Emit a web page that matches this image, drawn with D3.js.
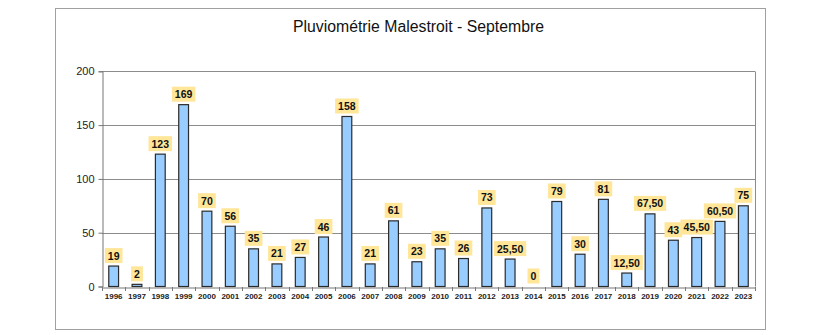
<!DOCTYPE html>
<html><head><meta charset="utf-8">
<script src="https://cdn.jsdelivr.net/npm/d3@7"></script>
<style>body{margin:0;background:#fff;} svg{display:block;}</style>
</head><body>
<svg id="c" width="820" height="335"></svg>
<script>
const years = ["1996","1997","1998","1999","2000","2001","2002","2003","2004","2005","2006","2007","2008","2009","2010","2011","2012","2013","2014","2015","2016","2017","2018","2019","2020","2021","2022","2023"];
const rainfall = [19,2,123,169,70,56,35,21,27,46,158,21,61,23,35,26,73,25.5,0,79,30,81,12.5,67.5,43,45.5,60.5,75];
const yTicks = [0,50,100,150,200];
const title = "Pluviométrie Malestroit - Septembre";

const svg = d3.select("#c");
const m = {left:102, right:755, top:71.3, bottom:286.5};
svg.append("rect").attr("x",55.5).attr("y",8.5).attr("width",710).attr("height",321)
  .attr("fill","#fff").attr("stroke","#a0a0a0").attr("stroke-width",1);

svg.append("text").attr("x",418.5).attr("y",32).attr("text-anchor","middle")
  .attr("font-family","Liberation Sans, Arial, sans-serif").attr("font-size",15.8).attr("fill","#111").text(title);

const x = d3.scaleBand().domain(years).range([m.left,m.right]).paddingInner(0.58).paddingOuter(0.29);
const y = d3.scaleLinear().domain([0,200]).range([m.bottom,m.top]);

// grid
svg.append("g").selectAll("line").data(yTicks.filter(d=>d>0)).join("line")
  .attr("x1",m.left).attr("x2",m.right).attr("y1",d=>Math.round(y(d))+0.5).attr("y2",d=>Math.round(y(d))+0.5)
  .attr("stroke","#8c8c8c").attr("stroke-width",1);
svg.append("line").attr("x1",m.right+0.5).attr("x2",m.right+0.5).attr("y1",Math.round(y(200))+0.5).attr("y2",m.bottom)
  .attr("stroke","#8c8c8c");

// y axis
const ya = svg.append("g").attr("transform",`translate(${m.left+0.5},0)`)
  .call(d3.axisLeft(y).tickValues(yTicks).tickSize(4).tickPadding(4));
ya.select(".domain").attr("stroke","#777");
ya.selectAll(".tick line").attr("stroke","#777");
ya.selectAll("text").attr("font-family","Liberation Sans, Arial, sans-serif").attr("font-size",11).attr("fill","#222");

// x axis
const xa = svg.append("g").attr("transform",`translate(0,${Math.round(m.bottom)+0.5})`)
  .call(d3.axisBottom(x).tickSize(0).tickPadding(6));
xa.select(".domain").attr("stroke","#777");
xa.selectAll("text").attr("font-family","Liberation Sans, Arial, sans-serif").attr("font-size",8).attr("font-weight","bold").attr("fill","#222");
// tick marks between categories
svg.append("g").selectAll("line").data(d3.range(years.length+1)).join("line")
  .attr("x1",i=>Math.round(m.left+i*(m.right-m.left)/years.length)+0.5)
  .attr("x2",i=>Math.round(m.left+i*(m.right-m.left)/years.length)+0.5)
  .attr("y1",Math.round(m.bottom)).attr("y2",Math.round(m.bottom)+4).attr("stroke","#777");

// bars
svg.append("g").selectAll("rect").data(years).join("rect")
  .attr("x",(d)=>x(d)).attr("width",x.bandwidth())
  .attr("y",(d,i)=>y(rainfall[i])).attr("height",(d,i)=>y(0)-y(rainfall[i]))
  .attr("fill","#99ccff").attr("stroke","#2b2b2b").attr("stroke-width",1.2);

// labels
const fmt = v => Number.isInteger(v) ? String(v) : v.toFixed(2).replace(".",",");
const lg = svg.append("g");
years.forEach((d,i)=>{
  const cx = x(d)+x.bandwidth()/2;
  const by = y(rainfall[i]) - 3;
  const t = lg.append("text").attr("x",cx).attr("y",by-3.5).attr("text-anchor","middle")
    .attr("font-family","Liberation Sans, Arial, sans-serif").attr("font-size",10.5).attr("font-weight","bold")
    .attr("fill","#111").text(fmt(rainfall[i]));
  const w = t.node().getComputedTextLength();
  lg.insert("rect","text").attr("x",cx-w/2-3).attr("y",by-15).attr("width",w+6).attr("height",15)
    .attr("fill","#ffe699");
});
</script>
</body></html>
